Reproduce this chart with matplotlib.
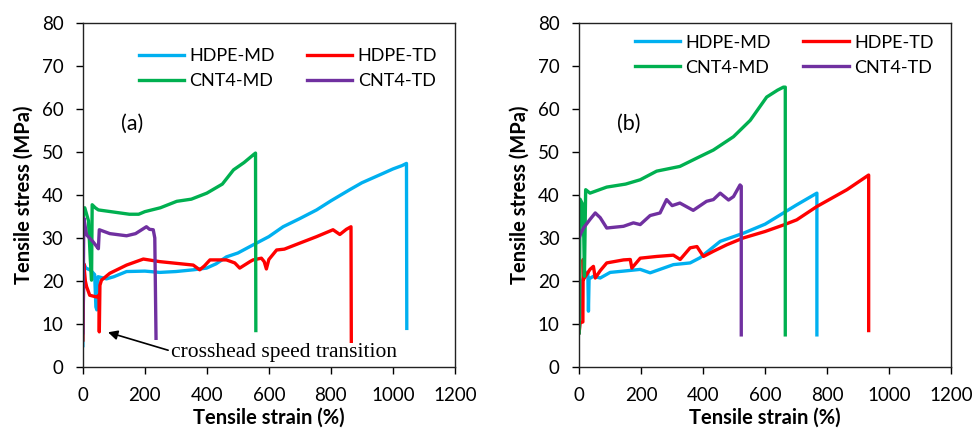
import matplotlib.pyplot as plt

plt.rcParams['font.family'] = ['Lato', 'DejaVu Sans']

# renkler (Excel standart)
C_BLUE = '#00B0F0'
C_RED = '#FF0000'
C_GREEN = '#00B050'
C_PURPLE = '#7030A0'

labels = ['HDPE-MD', 'HDPE-TD', 'CNT4-MD', 'CNT4-TD']
x_ticks = [0, 200, 400, 600, 800, 1000, 1200]
y_ticks = [0, 10, 20, 30, 40, 50, 60, 70, 80]

# --- (a) ---
a_hdpe_md_x = [0, 3, 10, 25, 38, 42, 45, 49, 60, 76, 100, 141, 200, 248, 300, 356, 399, 430, 463,
               500, 539, 600, 646, 700, 754, 800, 861, 900, 969, 1000, 1030, 1044, 1045]
a_hdpe_md_y = [5, 24, 23, 22.5, 21.5, 14, 13.3, 21, 20.8, 20.5, 21, 22.2, 22.3, 22, 22.2, 22.6, 23, 24,
               25.6, 26.5, 28, 30.3, 32.6, 34.5, 36.5, 38.6, 41.2, 42.8, 45, 46, 46.8, 47.3, 9]

a_hdpe_td_x = [0, 3, 8, 12, 22, 44, 52, 53, 55, 60, 87, 141, 195, 248, 302, 356, 377, 392, 410, 463,
               490, 506, 539, 549, 576, 585, 592, 600, 625, 650, 700, 754, 807, 829, 850, 865, 866]
a_hdpe_td_y = [6.3, 24, 20, 18.7, 16.7, 16.3, 16.7, 8.2, 19, 20.2, 21.8, 23.7, 25.1, 24.5, 24.1, 23.7,
               22.6, 23.5, 24.9, 24.9, 24.2, 23, 24.5, 24.9, 25.3, 24.5, 22.8, 25, 27.2, 27.4, 28.8, 30.3,
               31.9, 30.8, 32, 32.6, 6]

a_cnt4_md_x = [0, 2, 6, 12, 18, 24, 28, 30, 40, 50, 100, 150, 180, 200, 250, 303, 350, 400, 450, 486,
               520, 550, 557, 558]
a_cnt4_md_y = [30, 36.5, 37, 35.5, 34, 25, 20.2, 37.7, 37, 36.5, 36, 35.5, 35.5, 36.1, 37, 38.5, 39,
               40.4, 42.5, 45.8, 47.5, 49.3, 49.7, 8.5]

a_cnt4_td_x = [0, 3, 12, 33, 49, 50, 53, 87, 141, 170, 205, 215, 227, 232, 236]
a_cnt4_td_y = [8, 34.6, 30.7, 29.1, 27.6, 27.5, 31.9, 31, 30.5, 31, 32.6, 32, 31.9, 30, 6.7]

# --- (b) ---
b_hdpe_md_x = [0, 10, 22, 28, 30, 32, 46, 68, 100, 143, 197, 229, 304, 358, 390, 455, 530, 600, 659,
               700, 767, 767]
b_hdpe_md_y = [8, 20, 22, 22, 13, 20.5, 21.1, 20.7, 22, 22.3, 22.7, 21.9, 23.8, 24.2, 25.4, 29.2, 31.1,
               33.2, 35.8, 37.6, 40.4, 7.5]

b_hdpe_td_x = [0, 3, 12, 13, 15, 35, 46, 52, 68, 89, 143, 165, 170, 197, 250, 304, 326, 358, 380, 401,
               433, 476, 530, 600, 659, 702, 767, 864, 934, 934]
b_hdpe_td_y = [8, 10.3, 10.5, 25, 20.5, 22.7, 23.4, 20.7, 22.4, 24.2, 24.9, 25, 23, 25.3, 25.7, 26, 25,
               27.7, 28, 25.7, 26.9, 28.4, 30, 31.5, 33, 34.2, 37.3, 41.2, 44.6, 8.5]

b_cnt4_md_x = [0, 3, 10, 15, 17, 21, 35, 89, 150, 197, 250, 325, 390, 433, 498, 552, 605, 640, 659,
               665, 665]
b_cnt4_md_y = [8, 39, 38, 30, 21.1, 41.2, 40.4, 41.8, 42.5, 43.5, 45.5, 46.6, 48.9, 50.4, 53.5, 57.3,
               62.7, 64.3, 65, 65, 7.5]

b_cnt4_td_x = [0, 5, 14, 35, 52, 68, 89, 143, 175, 197, 229, 261, 282, 300, 325, 368, 411, 433, 455,
               482, 498, 519, 523, 523]
b_cnt4_td_y = [30, 31, 32.3, 34.3, 35.8, 34.7, 32.3, 32.7, 33.5, 33.1, 35.2, 35.8, 38.9, 37.5, 38.1,
               36.4, 38.5, 38.9, 40.4, 38.8, 39.6, 42.3, 42, 7.5]

panels = [
    ('(a)', [(a_hdpe_md_x, a_hdpe_md_y), (a_hdpe_td_x, a_hdpe_td_y),
             (a_cnt4_md_x, a_cnt4_md_y), (a_cnt4_td_x, a_cnt4_td_y)], 0.085, 0.925),
    ('(b)', [(b_hdpe_md_x, b_hdpe_md_y), (b_hdpe_td_x, b_hdpe_td_y),
             (b_cnt4_md_x, b_cnt4_md_y), (b_cnt4_td_x, b_cnt4_td_y)], 0.594, 0.965),
]
colors = [C_BLUE, C_RED, C_GREEN, C_PURPLE]

fig = plt.figure(figsize=(9.75, 4.33), dpi=100)

for tag, series, left, leg_top in panels:
    ax = fig.add_axes([left, 0.152, 0.3815, 0.796])
    lines = []
    for (xs, ys), c, lab in zip(series, colors, labels):
        ln, = ax.plot(xs, ys, color=c, lw=2.4, label=lab)
        lines.append(ln)

    ax.set_xlim(0, 1200)
    ax.set_ylim(0, 80)
    ax.set_xticks(x_ticks)
    ax.set_yticks(y_ticks)
    ax.tick_params(direction='out', length=5, width=1, labelsize=13.5, colors='black',
                   top=False, right=False, pad=9)
    for s in ax.spines.values():
        s.set_linewidth(1)
        s.set_color('#222222')

    ax.set_xlabel('Tensile strain (%)', fontsize=14.5, fontweight='bold', labelpad=3)
    ax.set_ylabel('Tensile stress (MPa)', fontsize=14.5, fontweight='bold', labelpad=6)

    # satır satır: HDPE-MD, HDPE-TD / CNT4-MD, CNT4-TD
    order = [0, 2, 1, 3]
    ax.legend([lines[i] for i in order], [labels[i] for i in order],
              ncol=2, frameon=False, loc='upper left', bbox_to_anchor=(0.15, leg_top),
              borderaxespad=0, borderpad=0, fontsize=13, handlelength=2.5,
              handletextpad=0.3, columnspacing=1.8, labelspacing=0.5)

    ax.text(160, 56.5, tag, fontsize=15.5, ha='center', va='center')

    if tag == '(a)':
        ax.annotate('crosshead speed transition', xy=(81, 8.1), xytext=(284, 3.3),
                    fontsize=15.5, family=['Liberation Serif'], va='center', ha='left',
                    arrowprops=dict(arrowstyle='-|>', color='black', lw=1.2,
                                    shrinkA=0, shrinkB=0, mutation_scale=14,
                                    relpos=(0, 0.6)))

plt.savefig('out.png', dpi=100)
